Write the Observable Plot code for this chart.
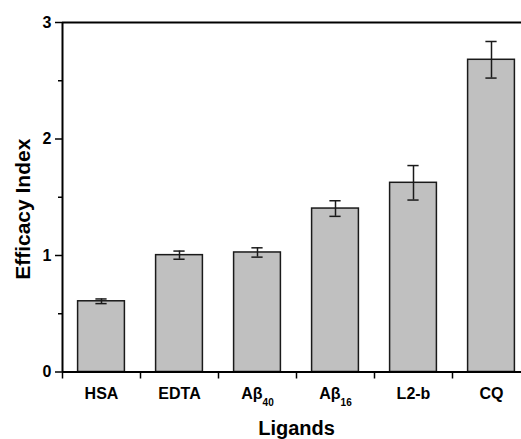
<!DOCTYPE html>
<html>
<head>
<meta charset="utf-8">
<script src="https://cdn.jsdelivr.net/npm/d3@7"></script>
<script src="https://cdn.jsdelivr.net/npm/@observablehq/plot@0.6"></script>
<style>
  html, body { margin: 0; padding: 0; background: #fff; }
  #chart svg { display: block; }
</style>
</head>
<body>
<div id="chart"></div>
<script>
const categories = ["HSA", "EDTA", "Aβ", "Aβ", "L2-b", "CQ"];
const subscripts = ["", "", "40", "16", "", ""];
const values = [0.607, 1.003, 1.026, 1.403, 1.624, 2.68];
const errors = [0.02, 0.035, 0.04, 0.067, 0.148, 0.157];
const yTicks = [0, 1, 2, 3];
const yMinorTicks = [0.5, 1.5, 2.5];
const xTitle = "Ligands";
const yTitle = "Efficacy Index";

const data = categories.map((c, i) => ({i, c, sub: subscripts[i], v: values[i], e: errors[i]}));
const bounds = d3.range(categories.length + 1);
const capHalf = 0.072;

const plot = Plot.plot({
  width: 521,
  height: 439,
  marginTop: 22,
  marginBottom: 67.5,
  marginLeft: 62,
  marginRight: 0,
  style: {fontFamily: "'Liberation Sans', Arial, sans-serif", fontWeight: "bold", background: "#fff", color: "#000"},
  x: {domain: [0, categories.length], range: [62, 530]},
  y: {domain: [0, 3]},
  marks: [
    Plot.rectY(data, {x1: d => d.i + 0.2, x2: d => d.i + 0.8, y1: 0, y2: "v", fill: "#c0c0c0", stroke: "#1a1a1a", strokeWidth: 1.5}),
    Plot.ruleX(data, {x: d => d.i + 0.5, y1: d => d.v - d.e, y2: d => d.v + d.e, stroke: "#1a1a1a", strokeWidth: 1.5}),
    Plot.ruleY(data, {y: d => d.v + d.e, x1: d => d.i + 0.5 - capHalf, x2: d => d.i + 0.5 + capHalf, stroke: "#1a1a1a", strokeWidth: 1.5}),
    Plot.ruleY(data, {y: d => d.v - d.e, x1: d => d.i + 0.5 - capHalf, x2: d => d.i + 0.5 + capHalf, stroke: "#1a1a1a", strokeWidth: 1.5}),
    Plot.axisY({ticks: yTicks, tickSize: 7, tickPadding: 4, fontSize: 16, tickFormat: d3.format("d"), label: null, strokeWidth: 1.5}),
    Plot.axisY({ticks: yMinorTicks, tickSize: 4, tickFormat: () => "", label: null, strokeWidth: 1.5}),
    Plot.axisX({ticks: bounds, tickSize: 7, tickFormat: () => "", label: null, strokeWidth: 1.5}),
    Plot.ruleX([0], {y1: 0, y2: 3, stroke: "#000", strokeWidth: 2}),
    Plot.ruleX([categories.length], {y1: 0, y2: 3, stroke: "#000", strokeWidth: 2}),
    Plot.ruleY([0], {x1: 0, x2: categories.length, stroke: "#000", strokeWidth: 2}),
    Plot.ruleY([3], {x1: 0, x2: categories.length, stroke: "#000", strokeWidth: 2}),
    Plot.text(data, {x: d => d.i + 0.5, y: 0, text: "c", dy: 27, lineAnchor: "bottom", fontSize: 16, fontWeight: "bold", fill: "#000"}),
    Plot.text([xTitle], {x: categories.length / 2, y: 0, text: d => d, dy: 62.5, lineAnchor: "bottom", fontSize: 20, fontWeight: "bold", fill: "#000"}),
    Plot.text([yTitle], {frameAnchor: "left", text: d => d, rotate: -90, textAnchor: "middle", dx: -39, dy: 12, fontSize: 21, fontWeight: "bold", fill: "#000"})
  ]
});

d3.select(plot).select('g[aria-label="text"]').selectAll("text").each(function(_, k) {
  const s = subscripts[k];
  if (s) {
    d3.select(this).append("tspan").attr("font-size", 10).attr("dy", 7).text(s);
  }
});

document.getElementById("chart").appendChild(plot);
</script>
</body>
</html>
